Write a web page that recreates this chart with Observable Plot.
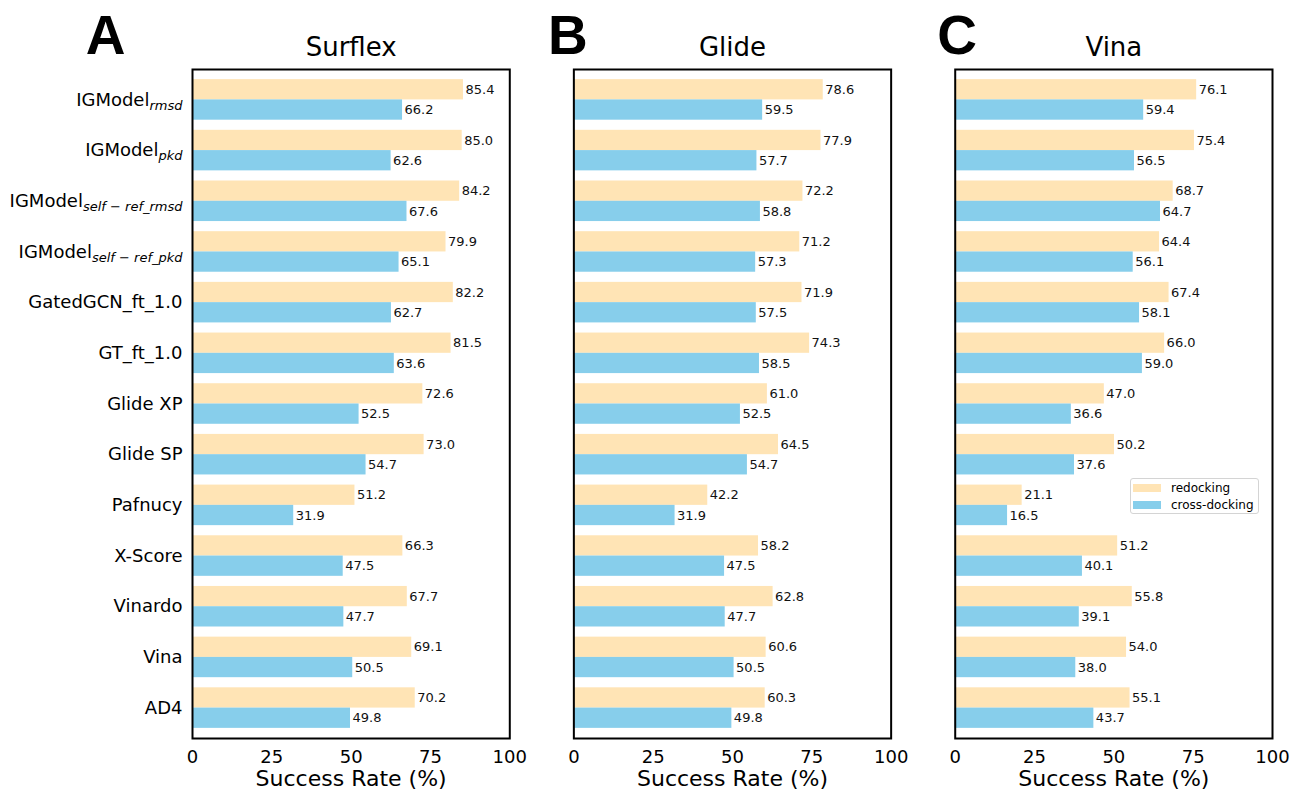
<!DOCTYPE html>
<html><head><meta charset="utf-8">
<script src="https://cdn.jsdelivr.net/npm/d3@7"></script>
<script src="https://cdn.jsdelivr.net/npm/@observablehq/plot@0.6"></script>
<style>
body{margin:0;background:#fff;}
#wrap{position:relative;width:1290px;height:792px;font-family:"DejaVu Sans",sans-serif;color:#000;}
#legend{position:absolute;left:1130px;top:478px;width:129px;height:36px;border:1px solid #d4d4d4;border-radius:3px;background:rgba(255,255,255,0.85);box-sizing:border-box;font-size:12px;}
#legend .row{position:absolute;left:2px;height:16px;display:flex;align-items:center;}
#legend .sw{width:28px;height:8px;margin-right:10px;}
</style>
</head><body>
<div id="wrap"><div id="chart"></div>
<div id="legend"></div>
</div>
<script>
const panels = ["Surflex", "Glide", "Vina"];
const letters = ["A", "B", "C"];
const series = ["redocking", "cross-docking"];
const seriesColors = ["#FFE4B5", "#87CEEB"];
const categories = [
  "IGModel_{rmsd}", "IGModel_{pkd}", "IGModel_{self − ref_rmsd}", "IGModel_{self − ref_pkd}",
  "GatedGCN_ft_1.0", "GT_ft_1.0", "Glide XP", "Glide SP", "Pafnucy", "X-Score",
  "Vinardo", "Vina", "AD4"
];
const surflexRedocking = [85.4, 85.0, 84.2, 79.9, 82.2, 81.5, 72.6, 73.0, 51.2, 66.3, 67.7, 69.1, 70.2];
const surflexCross     = [66.2, 62.6, 67.6, 65.1, 62.7, 63.6, 52.5, 54.7, 31.9, 47.5, 47.7, 50.5, 49.8];
const glideRedocking   = [78.6, 77.9, 72.2, 71.2, 71.9, 74.3, 61.0, 64.5, 42.2, 58.2, 62.8, 60.6, 60.3];
const glideCross       = [59.5, 57.7, 58.8, 57.3, 57.5, 58.5, 52.5, 54.7, 31.9, 47.5, 47.7, 50.5, 49.8];
const vinaRedocking    = [76.1, 75.4, 68.7, 64.4, 67.4, 66.0, 47.0, 50.2, 21.1, 51.2, 55.8, 54.0, 55.1];
const vinaCross        = [59.4, 56.5, 64.7, 56.1, 58.1, 59.0, 36.6, 37.6, 16.5, 40.1, 39.1, 38.0, 43.7];
const xTicks = [0, 25, 50, 75, 100];
const xLabel = "Success Rate (%)";

const panelSeries = [[surflexRedocking, surflexCross], [glideRedocking, glideCross], [vinaRedocking, vinaCross]];
const rows = [];
panels.forEach((p, pi) => series.forEach((s, si) => categories.forEach((c, ci) =>
  rows.push({panel: p, series: s, category: c, value: panelSeries[pi][si][ci]}))));

const W = 1290, H = 792, MT = 69, MB = 54, ML = 192, MR = 18;
const yPad = 0.2;
const step = (H - MT - MB) / (categories.length - yPad + 2 * yPad);
const half = step * (1 - yPad) / 2;
const fmt = d3.format(".1f");
const red = rows.filter(d => d.series === series[0]);
const cross = rows.filter(d => d.series === series[1]);
const letterOffsets = [-87, -6, 2];

const plot = Plot.plot({
  width: W, height: H,
  marginTop: MT, marginBottom: MB, marginLeft: ML, marginRight: MR,
  style: {fontFamily: "DejaVu Sans", background: "white", color: "black"},
  x: {domain: [0, 100]},
  y: {domain: categories, padding: yPad, round: false},
  fx: {domain: panels, paddingInner: 0.168, paddingOuter: 0, round: false, axis: null},
  color: {domain: series, range: seriesColors},
  marks: [
    Plot.barX(red, {x: "value", y: "category", fx: "panel", fill: "series", insetBottom: half}),
    Plot.barX(cross, {x: "value", y: "category", fx: "panel", fill: "series", insetTop: half}),
    Plot.text(red, {x: "value", y: "category", fx: "panel", text: d => fmt(d.value), textAnchor: "start", dx: 2, dy: -half / 2, fontSize: 13, fill: "#111"}),
    Plot.text(cross, {x: "value", y: "category", fx: "panel", text: d => fmt(d.value), textAnchor: "start", dx: 2, dy: half / 2, fontSize: 13, fill: "#111"}),
    Plot.frame({stroke: "black", strokeWidth: 2}),
    Plot.axisY({tickSize: 0, tickPadding: 10, fontSize: 18, label: null}),
    Plot.axisX({ticks: xTicks, tickSize: 0, tickPadding: 12, fontSize: 18, label: null}),
    Plot.text([xLabel], {frameAnchor: "bottom", lineAnchor: "top", dy: 32, fontSize: 22}),
    Plot.text(panels, {fx: d => d, text: d => d, frameAnchor: "top", lineAnchor: "bottom", dy: -14, fontSize: 26}),
    ...panels.map((p, i) => Plot.text([{panel: p, letter: letters[i]}], {
      fx: "panel", text: "letter", frameAnchor: "top-left", textAnchor: "middle", lineAnchor: "bottom",
      dx: letterOffsets[i], dy: -16, fontSize: 55, fontWeight: "bold", fontFamily: "Liberation Sans"
    }))
  ]
});
document.getElementById("chart").append(plot);

// Render subscripts in y tick labels (IGModel_{sub})
plot.querySelectorAll('g[aria-label="y-axis tick label"] text').forEach(t => {
  const m = /^(.*)_\{(.*)\}$/.exec(t.textContent);
  if (!m) return;
  t.textContent = "";
  const ns = "http://www.w3.org/2000/svg";
  const a = document.createElementNS(ns, "tspan"); a.textContent = m[1];
  const b = document.createElementNS(ns, "tspan"); b.textContent = m[2];
  b.setAttribute("font-style", "italic"); b.setAttribute("font-size", "13"); b.setAttribute("dy", "4");
  t.append(a, b);
});

// legend
const lg = document.getElementById("legend");
series.forEach((s, i) => {
  const r = document.createElement("div"); r.className = "row"; r.style.top = (1 + i * 17) + "px";
  const sw = document.createElement("div"); sw.className = "sw"; sw.style.background = seriesColors[i];
  const tx = document.createElement("span"); tx.textContent = s;
  r.append(sw, tx); lg.append(r);
});
</script>
</body></html>
